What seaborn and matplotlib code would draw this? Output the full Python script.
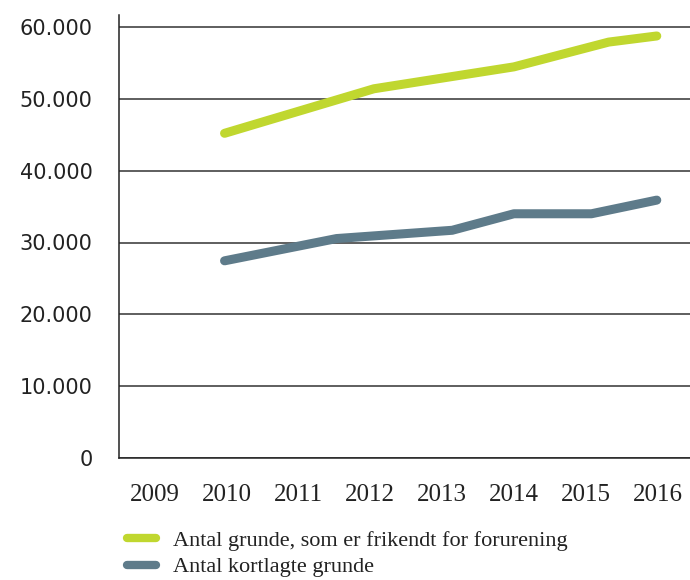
import matplotlib
matplotlib.use("Agg")
import matplotlib.pyplot as plt
import matplotlib.ticker as mticker
import pandas as pd
import seaborn as sns

# values (x in fractional years, where the line bends)
green_label = "Antal grunde, som er frikendt for forurening"
green_x = [2010.47, 2012.55, 2014.50, 2015.82, 2016.49]
green_y = [45200, 51400, 54450, 57900, 58750]

grey_label = "Antal kortlagte grunde"
grey_x = [2010.47, 2012.03, 2013.64, 2014.50, 2015.58, 2016.49]
grey_y = [27450, 30550, 31700, 34000, 34000, 35900]

years = [2009, 2010, 2011, 2012, 2013, 2014, 2015, 2016]
y_ticks = [0, 10000, 20000, 30000, 40000, 50000, 60000]

df = pd.concat([
    pd.DataFrame({"year": green_x, "value": green_y, "serie": green_label}),
    pd.DataFrame({"year": grey_x, "value": grey_y, "serie": grey_label}),
])

sns.set_style("white")
plt.rcParams["font.family"] = ["DejaVu Sans"]

fig = plt.figure(figsize=(6.9, 5.8), dpi=100)
ax = fig.add_axes([119 / 690, 122 / 580, 571 / 690, 443 / 580])

sns.lineplot(data=df, x="year", y="value", hue="serie",
             palette={green_label: "#c0d72f", grey_label: "#5e7b8a"},
             linewidth=6.5, solid_capstyle="round", solid_joinstyle="round",
             ax=ax, legend=False, sort=True, estimator=None)

ax.set_xlim(2009, 2009 + 571 / 71.8)
ax.set_ylim(0, 60000 * 443 / 431)

# y axis: danish thousand separator
ax.set_yticks(y_ticks)
ax.yaxis.set_major_formatter(mticker.FuncFormatter(
    lambda v, p: f"{int(v):,}".replace(",", ".")))
ax.tick_params(axis="y", length=10, width=1.1, color="#222222",
               pad=9, labelsize=15, labelcolor="#222222")
ax.yaxis.grid(True, color="#333333", linewidth=1.1)

# x axis: ticks on year boundaries, labels in between
ax.set_xticks(years)
ax.set_xticklabels([])
ax.set_xticks([y + 0.5 for y in years], minor=True)
ax.set_xticklabels([str(y) for y in years], minor=True,
                   fontfamily="Liberation Serif", fontsize=18, color="#222222")
ax.tick_params(axis="x", which="major", length=8, width=1.1, color="#222222",
               direction="out")
ax.tick_params(axis="x", which="minor", length=0, pad=19)
ax.set_xlabel("")
ax.set_ylabel("")

for s in ["top", "right"]:
    ax.spines[s].set_visible(False)
for s in ["left", "bottom"]:
    ax.spines[s].set_color("#222222")
    ax.spines[s].set_linewidth(1.1)

handles = [plt.Line2D([], [], color="#c0d72f", linewidth=6, solid_capstyle="round"),
           plt.Line2D([], [], color="#5e7b8a", linewidth=6, solid_capstyle="round")]
fig.legend(handles, [green_label, grey_label], loc="upper left",
           bbox_to_anchor=(116 / 690, 1 - 519 / 580), frameon=False,
           borderpad=0, handlelength=1.3, handletextpad=0.75,
           labelspacing=0.28, prop={"family": "Liberation Serif", "size": 16},
           labelcolor="#222222")

fig.savefig("out.png", dpi=100)
